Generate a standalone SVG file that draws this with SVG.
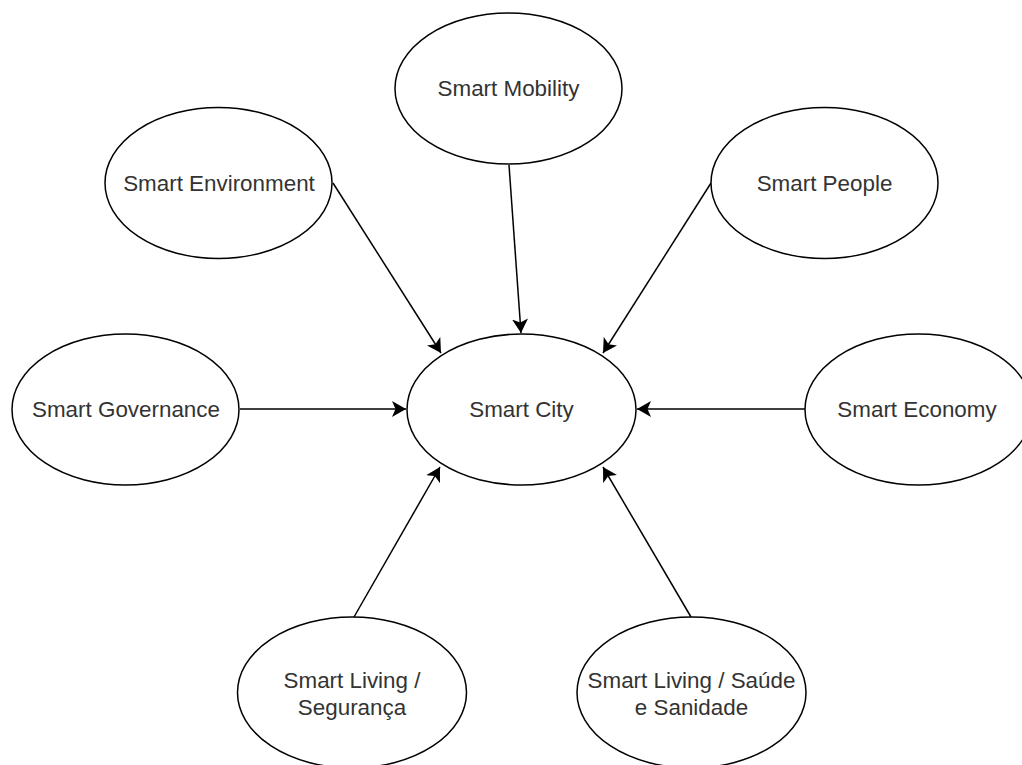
<svg xmlns="http://www.w3.org/2000/svg" width="1022" height="765" viewBox="0 0 1022 765">
<style>
.node ellipse{fill:#ffffff;stroke:#000000;stroke-width:1.5}
.node text{font-family:"Liberation Sans",Arial,sans-serif;font-size:22.4px;fill:#333333;text-anchor:middle}
.edge{stroke:#000000;stroke-width:1.5;fill:none;marker-end:url(#arrow)}
</style>
<defs>
<marker id="arrow" markerUnits="userSpaceOnUse" viewBox="0 0 14 16" refX="14" refY="8" markerWidth="14" markerHeight="16" orient="auto">
<path d="M0,0 L14,8 L0,16 L3.5,8 Z" fill="#000000"/>
</marker>
</defs>
<rect width="1022" height="765" fill="#ffffff"/>
<g id="connectors">
<line class="edge" x1="333" y1="183" x2="441" y2="353"/>
<line class="edge" x1="509" y1="165" x2="521" y2="333"/>
<line class="edge" x1="711" y1="183" x2="603" y2="353"/>
<line class="edge" x1="240" y1="409" x2="406" y2="409"/>
<line class="edge" x1="805" y1="409" x2="637" y2="409"/>
<line class="edge" x1="354" y1="617" x2="440" y2="467"/>
<line class="edge" x1="691" y1="617" x2="603" y2="467"/>
</g>
<g id="smart-city" class="node">
<ellipse cx="521.5" cy="409.5" rx="114.5" ry="75.5"/>
<text x="521.5" y="417">Smart City</text>
</g>
<g id="smart-mobility" class="node">
<ellipse cx="508.5" cy="88.5" rx="113.5" ry="75.5"/>
<text x="508.5" y="96">Smart Mobility</text>
</g>
<g id="smart-environment" class="node">
<ellipse cx="218.5" cy="183" rx="113.5" ry="75.5"/>
<text x="219" y="191">Smart Environment</text>
</g>
<g id="smart-people" class="node">
<ellipse cx="824.5" cy="183" rx="113.5" ry="75.5"/>
<text x="824.5" y="191">Smart People</text>
</g>
<g id="smart-governance" class="node">
<ellipse cx="125.5" cy="409.5" rx="113.5" ry="75.5"/>
<text x="126" y="417">Smart Governance</text>
</g>
<g id="smart-economy" class="node">
<ellipse cx="918.5" cy="409.5" rx="113.5" ry="75.5"/>
<text x="917" y="417">Smart Economy</text>
</g>
<g id="smart-living-seguranca" class="node">
<ellipse cx="352" cy="692.5" rx="114.5" ry="75.5"/>
<text x="352" y="688">Smart Living /</text>
<text x="352" y="715">Segurança</text>
</g>
<g id="smart-living-saude" class="node">
<ellipse cx="691.5" cy="692.5" rx="114.5" ry="75.5"/>
<text x="691.5" y="688">Smart Living / Saúde</text>
<text x="691.5" y="715">e Sanidade</text>
</g>
</svg>
